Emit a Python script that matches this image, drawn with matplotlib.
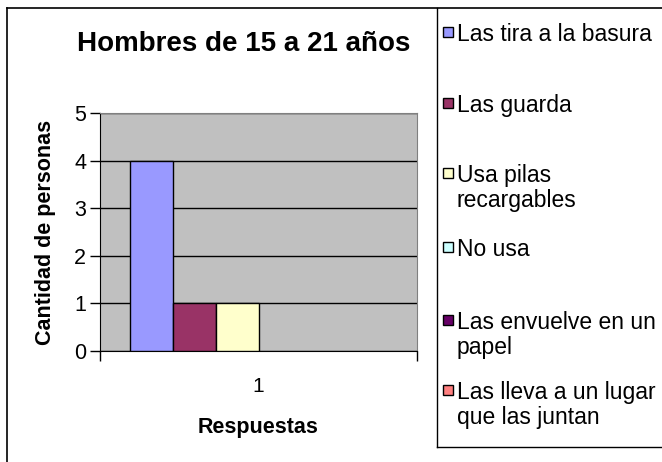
import numpy as np
import matplotlib.pyplot as plt
from matplotlib.patches import Rectangle
from matplotlib.lines import Line2D

plt.rcParams['font.family'] = ['Liberation Sans', 'DejaVu Sans']

# data
series = ['Las tira a la basura', 'Las guarda', 'Usa pilas\nrecargables', 'No usa',
          'Las envuelve en un\npapel', 'Las lleva a un lugar\nque las juntan']
values = [4, 1, 1, 0, 0, 0]
colors = ['#9999FF', '#993366', '#FFFFCC', '#CCFFFF', '#660066', '#FF8080']
categories = [1]

W, H = 662, 462
fig = plt.figure(figsize=(W / 100, H / 100), dpi=100)

def fx(px):
    return px / W

def fy(py):
    return 1 - py / H

# outer chart frame (left and top edges only visible)
fig.add_artist(Line2D([fx(7), fx(7)], [fy(8), fy(470)], color='black', lw=1.2))
fig.add_artist(Line2D([fx(7), fx(670)], [fy(8), fy(8)], color='black', lw=1.2))

# plot area
ax = fig.add_axes([fx(100), fy(351), fx(417) - fx(100), (351 - 113) / H])
ax.set_facecolor('#C0C0C0')
ax.set_xlim(0.5, 1.5)
ax.set_ylim(0, 5)

n = len(series)
bw = 43 / 317
for i, (v, c) in enumerate(zip(values, colors)):
    if v > 0:
        ax.bar(categories[0] + (i - (n - 1) / 2) * bw, v, width=bw, color=c,
               edgecolor='black', linewidth=1, zorder=3)

ax.set_yticks(range(6))
ax.yaxis.grid(True, color='black', linewidth=1)
ax.set_axisbelow(True)
ax.set_xticks([0.5, 1.5], minor=True)
ax.set_xticks(categories)
ax.tick_params(axis='x', which='major', length=0, pad=19, labelsize=15)
ax.tick_params(axis='x', which='minor', length=7, width=1, direction='out')
ax.tick_params(axis='y', length=7, width=1, direction='out', labelsize=15.5, pad=3)

for s in ['top', 'right']:
    ax.spines[s].set_color('#808080')
for s in ['left', 'bottom']:
    ax.spines[s].set_color('black')

ax.set_xlabel('Respuestas', fontsize=15.5, fontweight='bold', labelpad=15)
ax.set_ylabel('Cantidad de personas', fontsize=15.5, fontweight='bold', labelpad=13)

fig.text(fx(244), fy(44), 'Hombres de 15 a 21 años', fontsize=20, fontweight='bold',
         ha='center', va='center')

# legend box
leg_left, leg_top, leg_bottom = 437, 8, 447
fig.add_artist(Line2D([fx(leg_left), fx(leg_left)], [fy(leg_top), fy(leg_bottom)],
                      color='black', lw=1))
fig.add_artist(Line2D([fx(leg_left), fx(670)], [fy(leg_bottom), fy(leg_bottom)],
                      color='black', lw=1))

entry_y = [32, 103, 173, 247, 320, 390]  # first-line centres
for lab, c, y in zip(series, colors, entry_y):
    fig.add_artist(Rectangle((fx(443), fy(y + 5)), 10 / W, 10 / H, facecolor=c,
                             edgecolor='black', lw=1))
    fig.text(fx(457), fy(y - 9), lab, fontsize=16.5, ha='left', va='top',
             linespacing=1.12)

fig.savefig('out.png', dpi=100)
